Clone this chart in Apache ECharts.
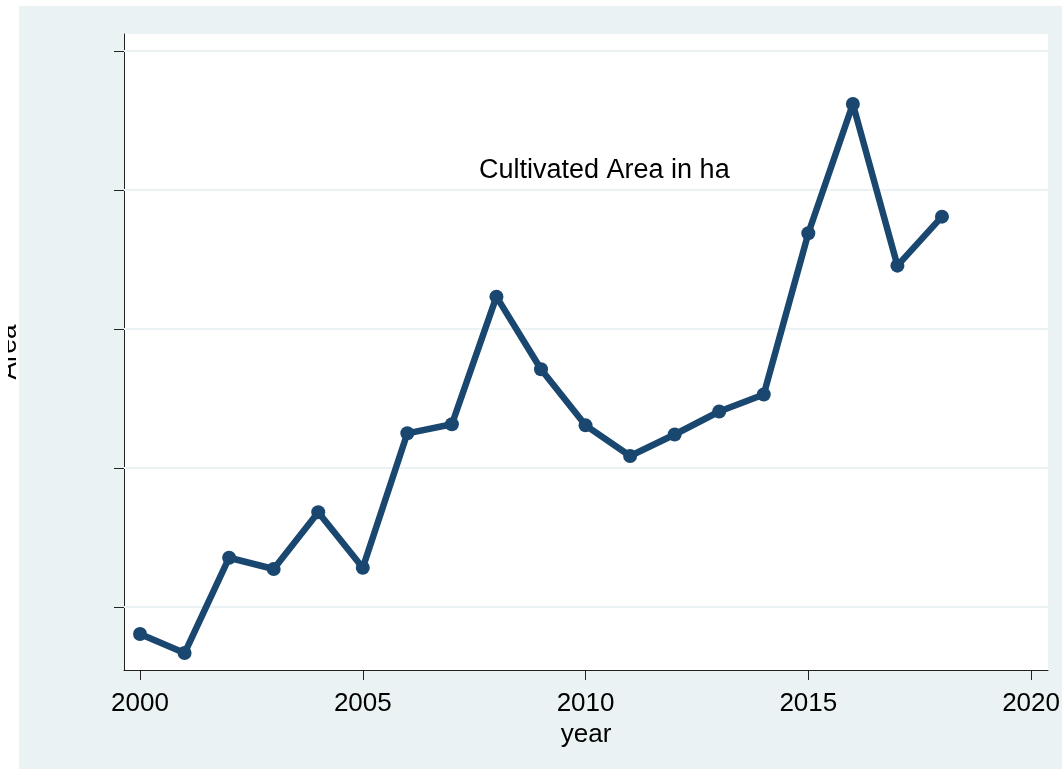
<!DOCTYPE html>
<html>
<head>
<meta charset="utf-8">
<title>Cultivated Area in ha</title>
<script src="https://cdn.jsdelivr.net/npm/echarts@6/dist/echarts.min.js"></script>
<style>
  html, body { margin: 0; padding: 0; background: #ffffff; }
  #chart { width: 1062px; height: 769px; }
</style>
</head>
<body>
<div id="chart"></div>
<script>
// Yearly cultivated area (ha)
const years = [2000, 2001, 2002, 2003, 2004, 2005, 2006, 2007, 2008, 2009,
               2010, 2011, 2012, 2013, 2014, 2015, 2016, 2017, 2018];
const area = [1612, 1338, 2709, 2547, 3363, 2565, 4499, 4629, 6465, 5420,
              4614, 4173, 4482, 4813, 5058, 7377, 9237, 6911, 7616];

// Axis ticks
const xTicks = [2000, 2005, 2010, 2015, 2020];
const yTicks = [2000, 4000, 6000, 8000, 10000];

const FONT = '"Liberation Sans", Arial, Helvetica, sans-serif';
const NAVY = '#1a476f';
const BG = '#eaf2f3';

const chart = echarts.init(document.getElementById('chart'), null, { renderer: 'canvas' });

chart.setOption({
  backgroundColor: '#ffffff',
  animation: false,
  textStyle: { fontFamily: FONT },
  title: {
    text: 'Cultivated Area in ha',
    left: 479,
    top: 157,
    padding: 0,
    textStyle: { fontFamily: FONT, fontSize: 27, fontWeight: 'normal', color: '#000' }
  },
  graphic: [
    {
      type: 'rect',
      z: -100,
      silent: true,
      shape: { x: 19, y: 6, width: 1043, height: 763 },
      style: { fill: BG }
    },
    {
      type: 'rect',
      z: 100,
      silent: true,
      shape: { x: 0, y: 0, width: 8, height: 769 },
      style: { fill: '#ffffff' }
    }
  ],
  grid: {
    left: 124,
    right: 14,
    top: 34,
    bottom: 99,
    outerBoundsMode: 'none',
    containLabel: false,
    show: true,
    backgroundColor: '#ffffff',
    borderWidth: 0
  },
  xAxis: {
    type: 'value',
    min: 1999.64,
    max: 2020.38,
    name: 'year',
    nameLocation: 'middle',
    nameGap: 40,
    nameTextStyle: { fontFamily: FONT, fontSize: 26, color: '#000' },
    axisLine: { show: true, onZero: false, lineStyle: { color: '#222', width: 1 } },
    axisTick: { show: true, length: 10, customValues: xTicks, lineStyle: { color: '#222', width: 1 } },
    axisLabel: {
      show: true,
      customValues: xTicks,
      margin: 21,
      fontFamily: FONT,
      fontSize: 26,
      color: '#000',
      formatter: v => String(v)
    },
    splitLine: { show: false }
  },
  yAxis: {
    type: 'value',
    min: 1094,
    max: 10244,
    name: 'Area',
    nameLocation: 'middle',
    nameGap: 102,
    nameTextStyle: { fontFamily: FONT, fontSize: 26, color: '#000' },
    axisLine: { show: true, onZero: false, lineStyle: { color: '#222', width: 1 } },
    axisTick: { show: true, length: 10, customValues: yTicks, lineStyle: { color: '#222', width: 1 } },
    axisLabel: { show: false, customValues: yTicks },
    splitLine: { show: false }
  },
  series: [
    {
      type: 'line',
      data: years.map((y, i) => [y, area[i]]),
      z: 3,
      symbol: 'circle',
      symbolSize: 14,
      showSymbol: true,
      lineStyle: { color: NAVY, width: 6.5, join: 'round', cap: 'round' },
      itemStyle: { color: NAVY, borderWidth: 0 },
      markLine: {
        silent: true,
        z: 1,
        symbol: ['none', 'none'],
        label: { show: false },
        emphasis: { disabled: true },
        lineStyle: { color: BG, width: 2, type: 'solid' },
        data: yTicks.map(v => ({ yAxis: v }))
      }
    }
  ]
});
</script>
</body>
</html>
